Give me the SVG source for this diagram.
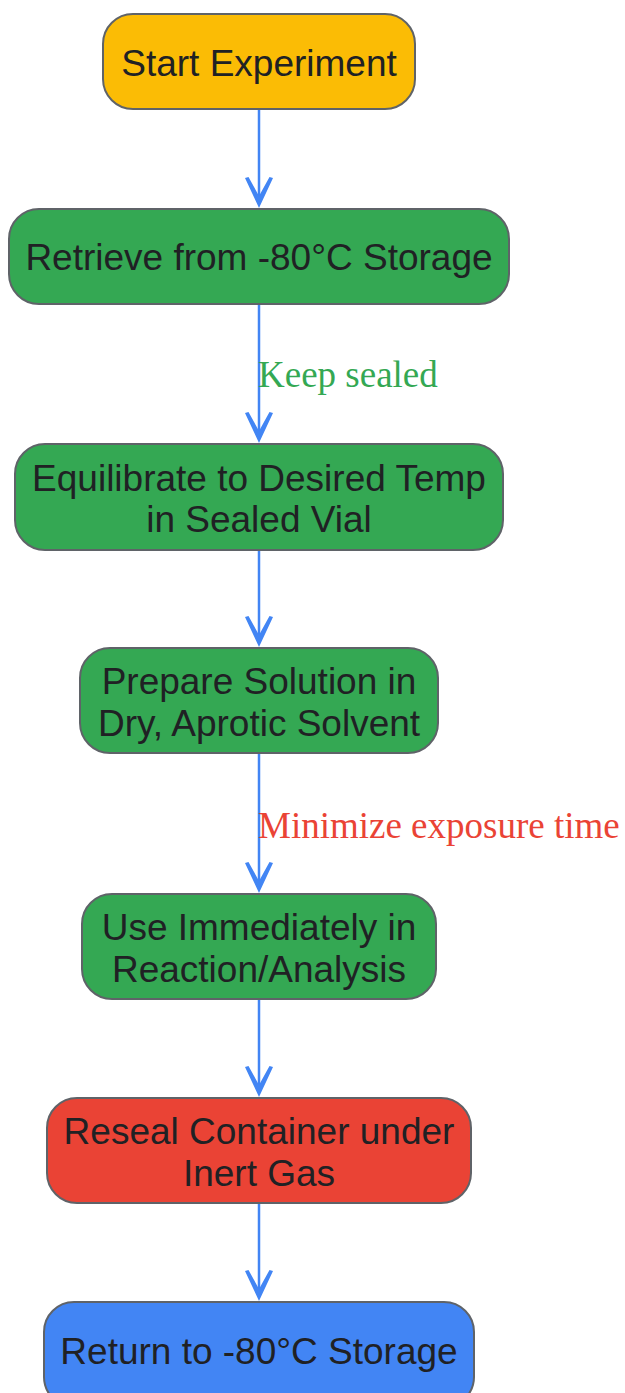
<svg xmlns="http://www.w3.org/2000/svg" width="625" height="1393" viewBox="0 0 625 1393">
<defs>
<polygon id="ah" points="-14,-29 0,1 14,-29 10.5,-30 0,-11 -10.5,-30" fill="#4285F4"/>
</defs>
<style>
.box{stroke:#5f6368;stroke-width:2}
.t{font-family:"Liberation Sans",Arial,sans-serif;font-size:37px;fill:#202124;text-anchor:middle}
.lbl{font-family:"Liberation Serif","Times New Roman",serif;font-size:37px}
.edge{stroke:#4285F4;stroke-width:2.5;fill:none}
</style>
<rect width="625" height="1393" fill="#ffffff"/>
<g id="connectors">
<g id="e1"><path class="edge" d="M259,109 V200"/><use href="#ah" x="259" y="207"/></g>
<g id="e2"><path class="edge" d="M259,304 V435"/><use href="#ah" x="259" y="442"/>
<text class="lbl" x="258" y="387" fill="#34A853">Keep sealed</text></g>
<g id="e3"><path class="edge" d="M259,550 V639"/><use href="#ah" x="259" y="646"/></g>
<g id="e4"><path class="edge" d="M259,753 V885"/><use href="#ah" x="259" y="892"/>
<text class="lbl" x="258" y="838" fill="#EA4335">Minimize exposure time</text></g>
<g id="e5"><path class="edge" d="M259,999 V1089"/><use href="#ah" x="259" y="1096"/></g>
<g id="e6"><path class="edge" d="M259,1203 V1293"/><use href="#ah" x="259" y="1300"/></g>
</g>
<g id="start"><rect class="box" x="103" y="14" width="312" height="95" rx="30" fill="#FBBC05"/><text class="t" x="259" y="76">Start Experiment</text></g>
<g id="retrieve"><rect class="box" x="9" y="209" width="500" height="95" rx="30" fill="#34A853"/><text class="t" x="259" y="270">Retrieve from -80°C Storage</text></g>
<g id="equilibrate"><rect class="box" x="15" y="444" width="488" height="106" rx="30" fill="#34A853"/><text class="t" x="259" y="491">Equilibrate to Desired Temp</text><text class="t" x="259" y="532">in Sealed Vial</text></g>
<g id="prepare"><rect class="box" x="80" y="648" width="358" height="105" rx="30" fill="#34A853"/><text class="t" x="259" y="694">Prepare Solution in</text><text class="t" x="259" y="736">Dry, Aprotic Solvent</text></g>
<g id="use"><rect class="box" x="82" y="894" width="354" height="105" rx="30" fill="#34A853"/><text class="t" x="259" y="940">Use Immediately in</text><text class="t" x="259" y="982">Reaction/Analysis</text></g>
<g id="reseal"><rect class="box" x="47" y="1098" width="424" height="105" rx="30" fill="#EA4335"/><text class="t" x="259" y="1144">Reseal Container under</text><text class="t" x="259" y="1186">Inert Gas</text></g>
<g id="return"><rect class="box" x="44" y="1302" width="430" height="105" rx="30" fill="#4285F4"/><text class="t" x="259" y="1364">Return to -80°C Storage</text></g>
</svg>
